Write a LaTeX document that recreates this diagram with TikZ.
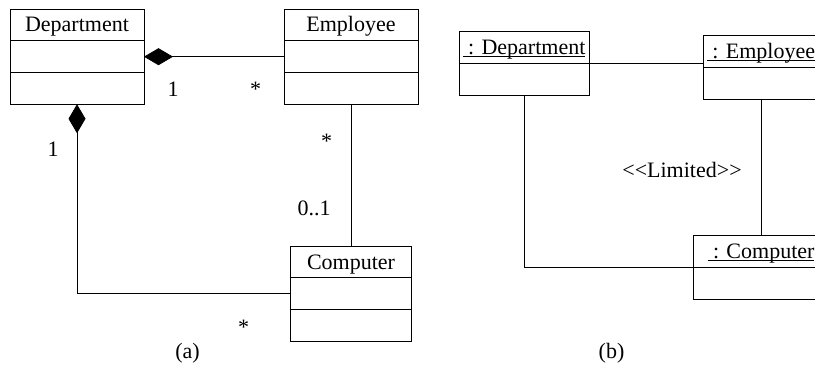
\documentclass[tikz,border=0pt]{standalone}
\usepackage{fontspec}
\setmainfont{Liberation Serif}
\usetikzlibrary{positioning, arrows.meta}
\newcommand{\objul}[1]{\setbox0\hbox{#1}\rlap{\rule[-2.5pt]{\wd0}{0.8pt}}\box0}
\tikzset{
every node/.style={font=\fontsize{22}{26}\selectfont}, % one text size for everything
compart/.style={draw, line width=0.9pt, inner sep=0pt, outer sep=0pt, minimum height=31.7pt}, % one compartment of a class box
classname/.style={compart, text height=15pt, text depth=1pt}, % top compartment, holds the name
mult/.style={anchor=base, inner sep=0pt}, % multiplicities and captions
assoc/.style={line width=0.8pt}, % plain association
composite/.style={assoc, {Diamond[length=29pt, width=17pt]}-}, % composition, diamond at the whole
}
\begin{document}
\begin{tikzpicture}[x=1pt, y=-1pt]
    \useasboundingbox (0,0) rectangle (815,369);
    \clip (0,0) rectangle (815,369);
    % (a) classes
    \node[classname, minimum width=134pt] (dept) at (77,25) {Department};
    \node[compart, minimum width=134pt, below=0pt of dept] (dept1) {};
    \node[compart, minimum width=134pt, below=0pt of dept1] (dept2) {};
    \node[classname, minimum width=134pt] (emp) at (351,25) {Employee};
    \node[compart, minimum width=134pt, below=0pt of emp] (emp1) {};
    \node[compart, minimum width=134pt, below=0pt of emp1] (emp2) {};
    \node[classname, minimum width=121pt] (comp) at (351,262) {Computer};
    \node[compart, minimum width=121pt, below=0pt of comp] (comp1) {};
    \node[compart, minimum width=121pt, below=0pt of comp1] (comp2) {};
    \draw[composite] (dept1.east) -- (emp1.west);
    \draw[composite] (dept2.south) |- (comp1.west);
    \draw[assoc] (emp2.south) -- (comp.north);
    \node[mult] (m1) at (173,97) {1};
    \node[mult] (m2) at (255.5,97) {*};
    \node[mult] (m3) at (53,157) {1};
    \node[mult] (m4) at (326.5,148) {*};
    \node[mult] (m5) at (314,215) {0..1};
    \node[mult] (m6) at (243.5,334) {*};
    \node[mult] (capa) at (187.5,358) {(a)};
    % (b) objects
    \node[classname, minimum width=130pt] (odept) at (524,47.75) {\objul{\ : Department}};
    \node[compart, minimum width=130pt, below=0pt of odept] (odept1) {};
    \node[classname, minimum width=116pt] (oemp) at (761,51.75) {\objul{\ : Employee}};
    \node[compart, minimum width=116pt, below=0pt of oemp] (oemp1) {};
    \node[classname, minimum width=136pt] (ocomp) at (761,251.75) {\objul{\ : Computer}};
    \node[compart, minimum width=136pt, below=0pt of ocomp] (ocomp1) {};
    \draw[assoc] (odept.south east) -- (odept.south east -| oemp.west);
    \draw[assoc] (odept1.south) |- (ocomp.south west);
    \draw[assoc] (oemp1.south) -- (ocomp.north);
    \node[mult] (lim) at (682,177) {<{}<Limited>{}>};
    \node[mult] (capb) at (611.5,358) {(b)};
\end{tikzpicture}
\end{document}
